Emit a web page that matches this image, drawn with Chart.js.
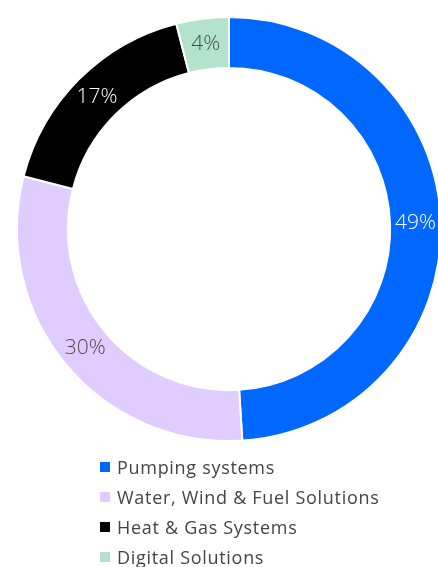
<!DOCTYPE html>
<html>
<head>
<meta charset="utf-8">
<script src="https://cdn.jsdelivr.net/npm/chart.js@4.4.0/dist/chart.umd.min.js"></script>
<style>
  html, body { margin: 0; padding: 0; background: #fff; width: 438px; height: 567px; overflow: hidden; }
  .chart-wrap { position: absolute; left: 0; top: 0; width: 458px; height: 458px; }
  #legend { position: absolute; left: 100px; top: 452px; margin: 0; padding: 0; list-style: none;
            font-family: "Open Sans", sans-serif; font-size: 18px; letter-spacing: 0.7px; color: #444; }
  #legend li { height: 30px; line-height: 30px; display: flex; align-items: center; }
  #legend .box { width: 10px; height: 10px; margin-right: 7px; flex: none; }
</style>
</head>
<body>
<div class="chart-wrap"><canvas id="donut"></canvas></div>
<ul id="legend"></ul>
<script>
// segments, clockwise from 12 o'clock
const categories = ['Pumping systems', 'Water, Wind & Fuel Solutions', 'Heat & Gas Systems', 'Digital Solutions'];
const shares     = [49, 30, 17, 4];
const colors     = ['#0068FF', '#E0CCFF', '#000000', '#B3E3CC'];
const labelInk   = ['#ffffff', '#4a4a4a', '#ffffff', '#4a4a4a'];

// draws the % text in the middle of each ring segment
const sliceLabels = {
    id: 'sliceLabels',
    afterDatasetsDraw(chart) {
        const ctx = chart.ctx;
        const meta = chart.getDatasetMeta(0);
        ctx.save();
        ctx.font = '300 21px "Open Sans", sans-serif';
        ctx.textAlign = 'center';
        ctx.textBaseline = 'middle';
        meta.data.forEach((arc, i) => {
            const p = arc.tooltipPosition();
            ctx.fillStyle = labelInk[i];
            ctx.fillText(shares[i] + '%', p.x, p.y);
        });
        ctx.restore();
    }
};

new Chart(document.getElementById('donut').getContext('2d'), {
    type: 'doughnut',
    data: {
        labels: categories,
        datasets: [{
            data: shares,
            backgroundColor: colors,
            borderColor: '#ffffff',
            borderWidth: 2
        }]
    },
    options: {
        responsive: true,
        maintainAspectRatio: false,
        animation: false,
        cutout: '76%',
        layout: { padding: 16 },
        plugins: {
            legend: { display: false },
            tooltip: { enabled: false }
        }
    },
    plugins: [sliceLabels]
});

// html legend, one entry per row
const legend = document.getElementById('legend');
categories.forEach((name, i) => {
    const li = document.createElement('li');
    li.innerHTML = `<span class="box" style="background:${colors[i]}"></span><span>${name}</span>`;
    legend.appendChild(li);
});
</script>
</body>
</html>
